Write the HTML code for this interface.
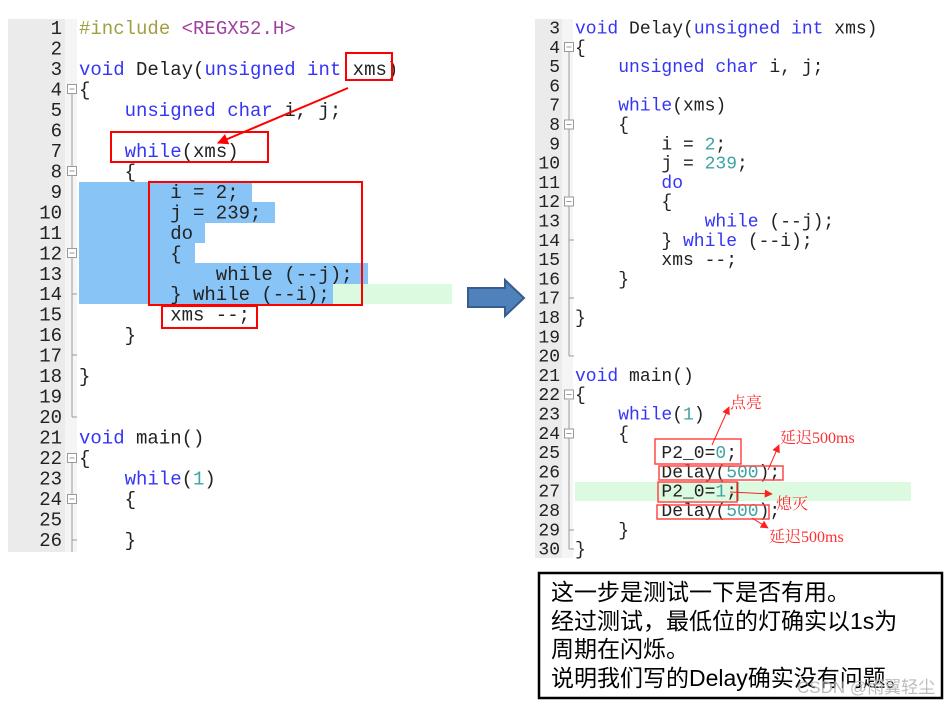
<!DOCTYPE html>
<html>
<head>
<meta charset="utf-8">
<style>
html,body{margin:0;padding:0;background:#fff;}
svg{display:block;}
.code{font-family:"Liberation Mono",monospace;}
.L{font-size:19px;}
.R{font-size:18px;}
.k{fill:#3535f5;}
.d{fill:#222;}
.n{fill:#3fa3a3;}
.ln{font-family:"Liberation Mono",monospace;fill:#222;}
.ann{font-family:"Liberation Serif","Noto Serif CJK SC",serif;fill:#ff3030;font-size:16px;}
.box{font-family:"Liberation Sans","Noto Sans CJK SC",sans-serif;font-size:23px;fill:#000;}
</style>
</head>
<body>
<svg width="947" height="706" viewBox="0 0 947 706" xmlns="http://www.w3.org/2000/svg">
<defs>
<marker id="ah2" viewBox="0 0 10 10" refX="9" refY="5" markerWidth="10" markerHeight="8" orient="auto" markerUnits="userSpaceOnUse">
<path d="M0,0 L10,5 L0,10 z" fill="#ff2020"/>
</marker>
<marker id="ahL" viewBox="0 0 10 10" refX="9" refY="5" markerWidth="14" markerHeight="11" orient="auto" markerUnits="userSpaceOnUse">
<path d="M0,0 L10,5 L0,10 z" fill="#ff0000"/>
</marker>
</defs>

<!-- ================= LEFT PANEL ================= -->
<rect x="8" y="19" width="57" height="533" fill="#ebebeb"/>
<rect x="65" y="19" width="12" height="533" fill="#f5f5f5"/>

<rect x="333" y="284" width="119" height="20" fill="#dcfadf"/>
<rect x="79" y="182" width="173" height="21" fill="#88c4f5"/>
<rect x="79" y="202" width="196" height="21" fill="#88c4f5"/>
<rect x="79" y="222" width="126" height="21" fill="#88c4f5"/>
<rect x="79" y="242" width="116" height="22" fill="#88c4f5"/>
<rect x="79" y="263" width="289" height="21" fill="#88c4f5"/>
<rect x="79" y="283" width="254" height="21" fill="#88c4f5"/>

<g stroke="#9a9a9a" fill="#fff" stroke-width="1">
<line x1="72" y1="94" x2="72" y2="417"/>
<line x1="72" y1="417" x2="77" y2="417"/>
<line x1="72" y1="294" x2="77" y2="294"/>
<line x1="72" y1="355" x2="77" y2="355"/>
<line x1="72" y1="463" x2="72" y2="552"/>
<line x1="72" y1="540" x2="77" y2="540"/>
<rect x="67.5" y="84.5" width="9" height="9"/>
<rect x="67.5" y="166.5" width="9" height="9"/>
<rect x="67.5" y="248.5" width="9" height="9"/>
<rect x="67.5" y="453.5" width="9" height="9"/>
<rect x="67.5" y="494.5" width="9" height="9"/>
<line x1="69.5" y1="89" x2="74.5" y2="89"/>
<line x1="69.5" y1="171" x2="74.5" y2="171"/>
<line x1="69.5" y1="253" x2="74.5" y2="253"/>
<line x1="69.5" y1="458" x2="74.5" y2="458"/>
<line x1="69.5" y1="499" x2="74.5" y2="499"/>
</g>

<g class="ln" font-size="19" text-anchor="end">
<text x="62" y="34">1</text>
<text x="62" y="54.5">2</text>
<text x="62" y="75">3</text>
<text x="62" y="95.4">4</text>
<text x="62" y="115.9">5</text>
<text x="62" y="136.4">6</text>
<text x="62" y="156.9">7</text>
<text x="62" y="177.4">8</text>
<text x="62" y="197.8">9</text>
<text x="62" y="218.3">10</text>
<text x="62" y="238.8">11</text>
<text x="62" y="259.3">12</text>
<text x="62" y="279.8">13</text>
<text x="62" y="300.2">14</text>
<text x="62" y="320.7">15</text>
<text x="62" y="341.2">16</text>
<text x="62" y="361.7">17</text>
<text x="62" y="382.2">18</text>
<text x="62" y="402.6">19</text>
<text x="62" y="423.1">20</text>
<text x="62" y="443.6">21</text>
<text x="62" y="464.1">22</text>
<text x="62" y="484.6">23</text>
<text x="62" y="505">24</text>
<text x="62" y="525.5">25</text>
<text x="62" y="546">26</text>
</g>

<g class="code L">
<text x="79" y="34"><tspan fill="#a0a040">#include </tspan><tspan fill="#a040a0">&lt;REGX52.H&gt;</tspan></text>
<text x="79" y="75"><tspan class="k">void</tspan><tspan class="d"> Delay(</tspan><tspan class="k">unsigned int</tspan><tspan class="d"> xms)</tspan></text>
<text x="79" y="95.4" class="d">{</text>
<text x="124.6" y="115.9"><tspan class="k">unsigned char</tspan><tspan class="d"> i, j;</tspan></text>
<text x="124.6" y="156.9"><tspan class="k">while</tspan><tspan class="d">(xms)</tspan></text>
<text x="124.6" y="177.4" class="d">{</text>
<text x="170.2" y="197.8" class="d">i = 2;</text>
<text x="170.2" y="218.3" class="d">j = 239;</text>
<text x="170.2" y="238.8" class="d">do</text>
<text x="170.2" y="259.3" class="d">{</text>
<text x="215.8" y="279.8" class="d">while (--j);</text>
<text x="170.2" y="300.2" class="d">} while (--i);</text>
<text x="170.2" y="320.7" class="d">xms --;</text>
<text x="124.6" y="341.2" class="d">}</text>
<text x="79" y="382.2" class="d">}</text>
<text x="79" y="443.6"><tspan class="k">void</tspan><tspan class="d"> main()</tspan></text>
<text x="79" y="464.1" class="d">{</text>
<text x="124.6" y="484.6"><tspan class="k">while</tspan><tspan class="d">(</tspan><tspan class="n">1</tspan><tspan class="d">)</tspan></text>
<text x="124.6" y="505" class="d">{</text>
<text x="124.6" y="546" class="d">}</text>
</g>

<g fill="none" stroke="#ff0000" stroke-width="2">
<rect x="346" y="53" width="46" height="27"/>
<rect x="111" y="132" width="157" height="30"/>
<rect x="149" y="182" width="213" height="123"/>
<rect x="162" y="306" width="95" height="22"/>
</g>
<line x1="348" y1="88" x2="218" y2="143" stroke="#ff0000" stroke-width="2" marker-end="url(#ahL)"/>

<!-- ================= BLUE ARROW ================= -->
<polygon points="468,288 505,288 505,280 524,298 505,316 505,307 468,307" fill="#4f81bd" stroke="#385d8a" stroke-width="2"/>

<!-- ================= RIGHT PANEL ================= -->
<rect x="535" y="19" width="27" height="539" fill="#ebebeb"/>
<rect x="562" y="19" width="11" height="539" fill="#f5f5f5"/>

<rect x="575" y="482" width="336" height="19" fill="#dcfadf"/>

<g stroke="#9a9a9a" fill="#fff" stroke-width="1">
<line x1="569" y1="52" x2="569" y2="356"/>
<line x1="569" y1="356" x2="574" y2="356"/>
<line x1="569" y1="240" x2="574" y2="240"/>
<line x1="569" y1="298" x2="574" y2="298"/>
<line x1="569" y1="400" x2="569" y2="549"/>
<line x1="569" y1="549" x2="574" y2="549"/>
<line x1="569" y1="530" x2="574" y2="530"/>
<rect x="564.5" y="42.5" width="9" height="9"/>
<rect x="564.5" y="120" width="9" height="9"/>
<rect x="564.5" y="197" width="9" height="9"/>
<rect x="564.5" y="390" width="9" height="9"/>
<rect x="564.5" y="429" width="9" height="9"/>
<line x1="566.5" y1="47" x2="571.5" y2="47"/>
<line x1="566.5" y1="124.5" x2="571.5" y2="124.5"/>
<line x1="566.5" y1="201.5" x2="571.5" y2="201.5"/>
<line x1="566.5" y1="394.5" x2="571.5" y2="394.5"/>
<line x1="566.5" y1="433.5" x2="571.5" y2="433.5"/>
</g>

<g class="ln" font-size="18" text-anchor="end">
<text x="560" y="33.5">3</text>
<text x="560" y="52.8">4</text>
<text x="560" y="72.1">5</text>
<text x="560" y="91.4">6</text>
<text x="560" y="110.7">7</text>
<text x="560" y="130">8</text>
<text x="560" y="149.3">9</text>
<text x="560" y="168.6">10</text>
<text x="560" y="187.9">11</text>
<text x="560" y="207.2">12</text>
<text x="560" y="226.5">13</text>
<text x="560" y="245.8">14</text>
<text x="560" y="265.1">15</text>
<text x="560" y="284.4">16</text>
<text x="560" y="303.7">17</text>
<text x="560" y="323">18</text>
<text x="560" y="342.3">19</text>
<text x="560" y="361.6">20</text>
<text x="560" y="380.9">21</text>
<text x="560" y="400.2">22</text>
<text x="560" y="419.5">23</text>
<text x="560" y="438.8">24</text>
<text x="560" y="458.1">25</text>
<text x="560" y="477.4">26</text>
<text x="560" y="496.7">27</text>
<text x="560" y="516">28</text>
<text x="560" y="535.3">29</text>
<text x="560" y="554.6">30</text>
</g>

<g class="code R">
<text x="575" y="33.5"><tspan class="k">void</tspan><tspan class="d"> Delay(</tspan><tspan class="k">unsigned int</tspan><tspan class="d"> xms)</tspan></text>
<text x="575" y="52.8" class="d">{</text>
<text x="618.2" y="72.1"><tspan class="k">unsigned char</tspan><tspan class="d"> i, j;</tspan></text>
<text x="618.2" y="110.7"><tspan class="k">while</tspan><tspan class="d">(xms)</tspan></text>
<text x="618.2" y="130" class="d">{</text>
<text x="661.4" y="149.3"><tspan class="d">i = </tspan><tspan class="n">2</tspan><tspan class="d">;</tspan></text>
<text x="661.4" y="168.6"><tspan class="d">j = </tspan><tspan class="n">239</tspan><tspan class="d">;</tspan></text>
<text x="661.4" y="187.9" class="k">do</text>
<text x="661.4" y="207.2" class="d">{</text>
<text x="704.6" y="226.5"><tspan class="k">while</tspan><tspan class="d"> (--j);</tspan></text>
<text x="661.4" y="245.8"><tspan class="d">} </tspan><tspan class="k">while</tspan><tspan class="d"> (--i);</tspan></text>
<text x="661.4" y="265.1" class="d">xms --;</text>
<text x="618.2" y="284.4" class="d">}</text>
<text x="575" y="323" class="d">}</text>
<text x="575" y="380.9"><tspan class="k">void</tspan><tspan class="d"> main()</tspan></text>
<text x="575" y="400.2" class="d">{</text>
<text x="618.2" y="419.5"><tspan class="k">while</tspan><tspan class="d">(</tspan><tspan class="n">1</tspan><tspan class="d">)</tspan></text>
<text x="618.2" y="438.8" class="d">{</text>
<text x="661.4" y="458.1"><tspan class="d">P2_0=</tspan><tspan class="n">0</tspan><tspan class="d">;</tspan></text>
<text x="661.4" y="477.4"><tspan class="d">Delay(</tspan><tspan class="n">500</tspan><tspan class="d">);</tspan></text>
<text x="661.4" y="496.7"><tspan class="d">P2_0=</tspan><tspan class="n">1</tspan><tspan class="d">;</tspan></text>
<text x="661.4" y="516"><tspan class="d">Delay(</tspan><tspan class="n">500</tspan><tspan class="d">);</tspan></text>
<text x="618.2" y="535.3" class="d">}</text>
<text x="575" y="554.6" class="d">}</text>
</g>
<line x1="737.5" y1="482" x2="737.5" y2="501" stroke="#000" stroke-width="1.5"/>

<g fill="none" stroke="#ff4848" stroke-width="1.5">
<rect x="655" y="439" width="86" height="25"/>
<rect x="659" y="466" width="124" height="14"/>
<rect x="658" y="482" width="79" height="20"/>
<rect x="657" y="505" width="112" height="14"/>
</g>

<g stroke="#ff2020" stroke-width="1" fill="none">
<line x1="712" y1="445" x2="729" y2="407" marker-end="url(#ah2)"/>
<line x1="768" y1="470" x2="779" y2="445" marker-end="url(#ah2)"/>
<line x1="730" y1="492" x2="772" y2="494" marker-end="url(#ah2)"/>
<line x1="752" y1="518" x2="768" y2="528" marker-end="url(#ah2)"/>
</g>
<text class="ann" x="730" y="408">点亮</text>
<text class="ann" x="780" y="443">延迟500ms</text>
<text class="ann" x="776" y="509" font-size="17">熄灭</text>
<text class="ann" x="769" y="542">延迟500ms</text>

<!-- ================= TEXT BOX ================= -->
<rect x="539" y="573" width="403" height="125" fill="#fff" stroke="#000" stroke-width="2.5"/>
<g class="box">
<text x="551" y="600">这一步是测试一下是否有用。</text>
<text x="551" y="629">经过测试，最低位的灯确实以1s为</text>
<text x="551" y="657">周期在闪烁。</text>
<text x="551" y="686">说明我们写的Delay确实没有问题。</text>
</g>
<text x="797" y="693" font-family="Liberation Sans, 'Noto Sans CJK SC', sans-serif" font-size="17" fill="#b4b4b4" fill-opacity="0.9">CSDN @雨翼轻尘</text>
</svg>
</body>
</html>
